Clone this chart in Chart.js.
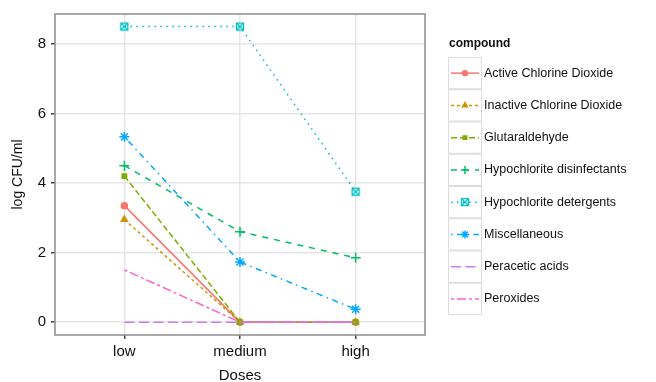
<!DOCTYPE html>
<html>
<head>
<meta charset="utf-8">
<script src="https://cdn.jsdelivr.net/npm/chart.js@4"></script>
<style>
  html, body { margin: 0; padding: 0; background: #fff; }
  #wrap { width: 656px; height: 382px; position: relative; }
</style>
</head>
<body>
<div id="wrap"><canvas id="chart" width="656" height="382"></canvas></div>
<script>
const categories = ['low', 'medium', 'high'];
const compounds = ['Active Chlorine Dioxide', 'Inactive Chlorine Dioxide', 'Glutaraldehyde',
  'Hypochlorite disinfectants', 'Hypochlorite detergents', 'Miscellaneous', 'Peracetic acids', 'Peroxides'];

const activeChlorineDioxide = [3.35, 0, 0];
const inactiveChlorineDioxide = [2.95, 0, 0];
const glutaraldehyde = [4.2, 0, 0];
const hypochloriteDisinfectants = [4.5, 2.6, 1.85];
const hypochloriteDetergents = [8.5, 8.5, 3.75];
const miscellaneous = [5.33, 1.73, 0.37];
const peraceticAcids = [0, 0, 0];
const peroxides = [1.5, 0, 0];

const yTicks = [0, 2, 4, 6, 8];

const seriesValues = [activeChlorineDioxide, inactiveChlorineDioxide, glutaraldehyde,
  hypochloriteDisinfectants, hypochloriteDetergents, miscellaneous, peraceticAcids, peroxides];

// ggplot-like hue palette, linetypes and shapes
const colors = ['#F8766D', '#CD9600', '#7CAE00', '#00BE67', '#00BFC4', '#00A9FF', '#C77CFF', '#FF61CC'];
const dashes = [[], [3, 3], [6, 3], [6, 6], [1.5, 4.5], [1.5, 4.5, 6, 4.5], [10, 4.5], [3, 3, 9, 3]];

function squareCross(color) {
  const c = document.createElement('canvas');
  c.width = 10; c.height = 10;
  const g = c.getContext('2d');
  g.strokeStyle = color;
  g.lineWidth = 1.3;
  g.strokeRect(1.5, 1.5, 7, 7);
  g.beginPath();
  g.moveTo(1.5, 1.5); g.lineTo(8.5, 8.5);
  g.moveTo(8.5, 1.5); g.lineTo(1.5, 8.5);
  g.stroke();
  return c;
}

const shapes = ['circle', 'triangle', 'rect', 'cross', squareCross(colors[4]), 'star', false, false];
const radii = [3, 3.5, 3, 5, 5, 5, 0, 0];

const datasets = compounds.map((name, i) => ({
  label: name,
  data: seriesValues[i].map((v, j) => ({ x: j, y: v })),
  borderColor: colors[i],
  backgroundColor: colors[i],
  borderWidth: 1.5,
  borderDash: dashes[i],
  pointStyle: shapes[i],
  pointRadius: radii[i],
  pointBorderWidth: 1.5,
  pointHoverRadius: radii[i],
  order: compounds.length - i,
  tension: 0
}));

const panelPlugin = {
  id: 'panel',
  afterDatasetsDraw(chart) {
    const { ctx, chartArea: a } = chart;
    ctx.save();
    ctx.strokeStyle = '#8c8c8c';
    ctx.lineWidth = 1.5;
    ctx.strokeRect(a.left, a.top, a.right - a.left, a.bottom - a.top);
    ctx.restore();
  },
  afterDraw(chart) {
    const ctx = chart.ctx;
    ctx.save();
    ctx.fillStyle = '#111';
    ctx.font = 'bold 12px "Liberation Sans", Arial, sans-serif';
    ctx.textBaseline = 'middle';
    ctx.fillText('compound', 449, 44);
    const keyX = 448, keyW = 33, top = 57, rowH = 32.25;
    compounds.forEach((name, i) => {
      const y0 = top + i * rowH;
      const cy = y0 + rowH / 2;
      ctx.strokeStyle = '#dcdcdc';
      ctx.lineWidth = 1;
      ctx.setLineDash([]);
      ctx.strokeRect(keyX + 0.5, y0 + 0.5, keyW, rowH - 1);
      ctx.strokeStyle = colors[i];
      ctx.lineWidth = 1.5;
      ctx.setLineDash(dashes[i]);
      ctx.beginPath();
      ctx.moveTo(keyX + 3, cy);
      ctx.lineTo(keyX + keyW - 2, cy);
      ctx.stroke();
      ctx.setLineDash([]);
      if (shapes[i]) {
        ctx.fillStyle = colors[i];
        ctx.strokeStyle = colors[i];
        Chart.helpers.drawPoint(ctx, {
          pointStyle: shapes[i], radius: radii[i] * 0.8, borderWidth: 1.3, rotation: 0
        }, keyX + keyW / 2 + 0.5, cy);
      }
      ctx.fillStyle = '#111';
      ctx.font = '12.5px "Liberation Sans", Arial, sans-serif';
      ctx.fillText(name, 484, cy);
    });
    ctx.restore();
  }
};

new Chart(document.getElementById('chart'), {
  type: 'line',
  data: { datasets },
  options: {
    responsive: false,
    animation: false,
    layout: { padding: { top: 14, right: 231, left: 0, bottom: 0 } },
    plugins: { legend: { display: false }, tooltip: { enabled: false } },
    scales: {
      x: {
        type: 'linear',
        min: -0.6,
        max: 2.6,
        afterBuildTicks(scale) { scale.ticks = categories.map((c, i) => ({ value: i })); },
        afterFit(scale) { scale.height = 47; },
        grid: { color: '#e6e6e6', lineWidth: 1.5, tickColor: '#444', tickLength: 4, drawOnChartArea: true },
        border: { display: false },
        ticks: {
          callback: (v) => categories[v],
          color: '#111',
          padding: 4,
          maxRotation: 0,
          font: { family: '"Liberation Sans", Arial, sans-serif', size: 15 }
        },
        title: {
          display: true,
          text: 'Doses',
          color: '#111',
          padding: { top: 0, bottom: -3 },
          font: { family: '"Liberation Sans", Arial, sans-serif', size: 15 }
        }
      },
      y: {
        min: -0.37,
        max: 8.86,
        afterBuildTicks(scale) { scale.ticks = yTicks.map(v => ({ value: v })); },
        afterFit(scale) { scale.width = 55; },
        grid: { color: '#e6e6e6', lineWidth: 1.5, tickColor: '#444', tickLength: 4 },
        border: { display: false },
        ticks: {
          color: '#111',
          padding: 5,
          font: { family: '"Liberation Sans", Arial, sans-serif', size: 15 }
        },
        title: {
          display: true,
          text: 'log CFU/ml',
          color: '#111',
          padding: { top: 10, bottom: 0 },
          font: { family: '"Liberation Sans", Arial, sans-serif', size: 14 }
        }
      }
    }
  },
  plugins: [panelPlugin]
});
</script>
</body>
</html>
